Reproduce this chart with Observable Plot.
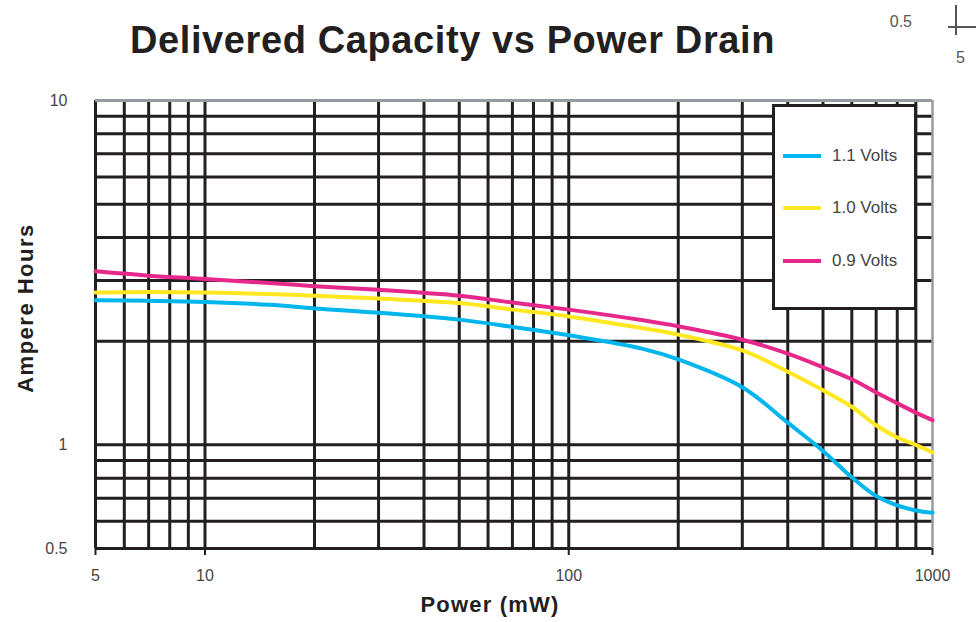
<!DOCTYPE html>
<html><head><meta charset="utf-8">
<script src="https://cdn.jsdelivr.net/npm/d3@7"></script>
<script src="https://cdn.jsdelivr.net/npm/@observablehq/plot@0.6"></script>
<style>
body{margin:0;background:#fff;font-family:"Liberation Sans",Arial,sans-serif;}
#wrap{position:relative;width:980px;height:622px;overflow:hidden;background:#fff}
#chart{position:absolute;left:0;top:0}
.abs{position:absolute;white-space:nowrap}
#title{left:0;width:905px;top:21px;text-align:center;font-weight:bold;font-size:38px;line-height:38px;color:#231f20;letter-spacing:0.6px}
#xlabel{left:390px;width:200px;top:594px;text-align:center;font-weight:bold;font-size:22px;line-height:22px;color:#231f20;letter-spacing:1.2px}
#ylabel{left:-74px;width:200px;top:297px;text-align:center;font-weight:bold;font-size:22px;line-height:22px;color:#231f20;letter-spacing:1.5px;transform:rotate(-90deg)}
#legend{left:772px;top:104px;width:145px;height:206px;box-sizing:border-box;border:3px solid #231f20;background:#fff}
.row{position:absolute;left:8px;height:20px;display:flex;align-items:center}
.sw{width:38px;height:4px;margin-right:11px}
.lt{font-size:17px;color:#444}
.art{color:#555;font-size:16px}
</style>
</head><body>
<div id="wrap">
  <div id="chart"></div>
  <div id="title" class="abs">Delivered Capacity vs Power Drain</div>
  <div id="xlabel" class="abs">Power (mW)</div>
  <div id="ylabel" class="abs">Ampere Hours</div>
  <div id="legend" class="abs"></div>
  <div class="abs art" style="left:880px;top:13px;width:32px;text-align:right">0.5</div>
  <div class="abs" style="left:955px;top:5px;width:2px;height:30px;background:#555"></div>
  <div class="abs" style="left:948px;top:26px;width:28px;height:2px;background:#555"></div>
  <div class="abs art" style="left:956px;top:49px">5</div>
</div>
<script>
// Data (x: power in mW, y: ampere hours)
const power = [5, 7, 10, 15, 20, 30, 50, 70, 100, 160, 200, 300, 400, 500, 600, 700, 800, 900, 1000];
const v11 = [2.63, 2.62, 2.60, 2.55, 2.49, 2.42, 2.31, 2.20, 2.08, 1.90, 1.77, 1.47, 1.16, 0.96, 0.805, 0.71, 0.667, 0.645, 0.635];
const v10 = [2.77, 2.78, 2.77, 2.74, 2.71, 2.66, 2.58, 2.47, 2.36, 2.18, 2.09, 1.88, 1.63, 1.44, 1.29, 1.14, 1.05, 1.00, 0.95];
const v09 = [3.19, 3.10, 3.03, 2.95, 2.89, 2.82, 2.71, 2.59, 2.47, 2.30, 2.21, 2.02, 1.84, 1.68, 1.55, 1.42, 1.32, 1.24, 1.18];
const seriesNames = ["1.1 Volts", "1.0 Volts", "0.9 Volts"];
const seriesColors = ["#00b6ec", "#ffe81f", "#e7288b"];
const xTickValues = [5, 10, 100, 1000];
const yTickValues = [0.5, 1, 10];
const xGridValues = [5, 6, 7, 8, 9, 10, 20, 30, 40, 50, 60, 70, 80, 90, 100, 200, 300, 400, 500, 600, 700, 800, 900, 1000];
const yGridValues = [0.5, 0.6, 0.7, 0.8, 0.9, 1, 2, 3, 4, 5, 6, 7, 8, 9, 10];

const seriesValues = [v11, v10, v09];
const data = [];
seriesNames.forEach((name, i) => {
  power.forEach((p, j) => data.push({series: name, power: p, ah: seriesValues[i][j]}));
});

const ink = "#231f20";
const border = "#959ca1";
const yMin = yGridValues[0];

const chart = Plot.plot({
  width: 980, height: 622,
  marginLeft: 95, marginRight: 48, marginTop: 100, marginBottom: 74,
  style: {fontFamily: "'Liberation Sans', Arial, sans-serif", fontSize: "16px", color: "#444", background: "transparent"},
  x: {type: "log", domain: [5, 1000], axis: null},
  y: {type: "log", domain: [0.5, 10], axis: null},
  color: {domain: seriesNames, range: seriesColors},
  marks: [
    Plot.ruleX(xGridValues.filter(d => d !== 1000), {stroke: ink, strokeWidth: 3}),
    Plot.ruleY(yGridValues.filter(d => d !== 10), {stroke: ink, strokeWidth: 3}),
    Plot.ruleY([10], {stroke: border, strokeWidth: 3}),
    Plot.ruleX([1000], {stroke: border, strokeWidth: 2.5}),
    Plot.ruleX(xTickValues, {x: d => d, y1: yMin, y2: yMin, insetBottom: -7, stroke: ink, strokeWidth: 2}),
    Plot.line(data, {x: "power", y: "ah", stroke: "series", z: "series", curve: "catmull-rom", strokeWidth: 4}),
    Plot.text(xTickValues, {x: d => d, y: yMin, dy: 27, text: d => String(d), fill: "#444", fontSize: 16}),
    Plot.text(yTickValues, {x: 5, y: d => d, dx: -28, textAnchor: "end", text: d => String(d), fill: "#444", fontSize: 16})
  ]
});
document.getElementById("chart").appendChild(chart);

const legend = document.getElementById("legend");
const rowTops = [156, 208, 261];
seriesNames.forEach((name, i) => {
  const row = document.createElement("div");
  row.className = "row";
  row.style.top = (rowTops[i] - 104 - 3 - 10) + "px";
  const sw = document.createElement("div");
  sw.className = "sw";
  sw.style.background = seriesColors[i];
  const t = document.createElement("span");
  t.className = "lt";
  t.textContent = name;
  row.appendChild(sw); row.appendChild(t);
  legend.appendChild(row);
});
</script>
</body></html>
